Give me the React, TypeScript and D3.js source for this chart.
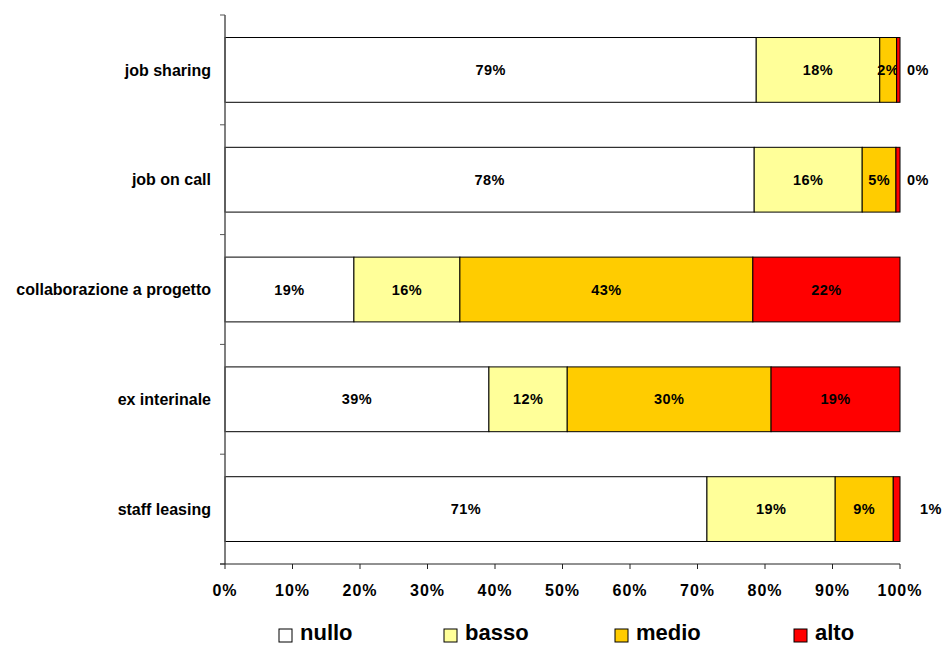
import React from "react";
import * as d3 from "d3";

const categories = ["job sharing", "job on call", "collaborazione a progetto", "ex interinale", "staff leasing"];
const seriesNames = ["nullo", "basso", "medio", "alto"];
const nullo = [78.7, 78.4, 19.1, 39.1, 71.4];
const basso = [18.3, 16.0, 15.7, 11.6, 19.0];
const medio = [2.5, 5.0, 43.4, 30.2, 8.6];
const alto = [0.5, 0.6, 21.8, 19.1, 1.0];
const labelNullo = ["79%", "78%", "19%", "39%", "71%"];
const labelBasso = ["18%", "16%", "16%", "12%", "19%"];
const labelMedio = ["2%", "5%", "43%", "30%", "9%"];
const labelAlto = ["0%", "0%", "22%", "19%", "1%"];
const xTicks = [0, 10, 20, 30, 40, 50, 60, 70, 80, 90, 100];

const colors = ["#FFFFFF", "#FFFF99", "#FFCC00", "#FF0000"];
const outsideDx = [18, 18, 18, 18, 31];

export default function App() {
  const W = 943, H = 646;
  const left = 225, right = 900, top = 15, bottom = 564;
  const x = d3.scaleLinear().domain([0, 100]).range([left, right]);
  const y = d3.scaleBand<string>().domain(categories).range([top, bottom]).paddingInner(0.41).paddingOuter(0.205);
  const step = y.step();
  const values = [nullo, basso, medio, alto];
  const labels = [labelNullo, labelBasso, labelMedio, labelAlto];
  const rows = categories.map((c, i) => {
    const o: any = { cat: c };
    seriesNames.forEach((s, k) => (o[s] = values[k][i]));
    return o;
  });
  const stack = d3.stack<any>().keys(seriesNames)(rows);
  const font = "'Liberation Sans', Arial, sans-serif";
  const legendX = [279, 444, 615, 794];

  return (
    <svg width={W} height={H} style={{ position: "absolute", left: 0, top: 0 }} fontFamily={font}>
      <rect width={W} height={H} fill="#fff" />
      {stack.map((layer, k) =>
        layer.map((d, i) => {
          const x0 = x(d[0]), x1 = x(d[1]);
          const yy = y(categories[i])!;
          const bw = y.bandwidth();
          const small = x1 - x0 < 10;
          const lx = small && k === 3 ? right + outsideDx[i] : (x0 + x1) / 2;
          return (
            <g key={k + "-" + i}>
              <rect x={x0} y={yy} width={x1 - x0} height={bw} fill={colors[k]} stroke="#000" strokeWidth={1} />
              <text x={lx} y={yy + bw / 2} dy="0.35em" textAnchor="middle" fontSize={14.5} fontWeight="bold" letterSpacing={0.4} fill="#000">
                {labels[k][i]}
              </text>
            </g>
          );
        })
      )}
      {/* y axis */}
      <line x1={left} x2={left} y1={top} y2={bottom} stroke="#555" strokeWidth={1.5} />
      {d3.range(categories.length + 1).map((j) => (
        <line key={"yt" + j} x1={left - 5} x2={left} y1={top + j * step} y2={top + j * step} stroke="#555" strokeWidth={1} />
      ))}
      {categories.map((c) => (
        <text key={c} x={left - 14} y={y(c)! + y.bandwidth() / 2} dy="0.35em" textAnchor="end" fontSize={16} fontWeight="bold">
          {c}
        </text>
      ))}
      {/* x axis */}
      <line x1={left - 5} x2={right} y1={bottom} y2={bottom} stroke="#222" strokeWidth={1} />
      {xTicks.map((t) => (
        <g key={"xt" + t}>
          <line x1={x(t)} x2={x(t)} y1={bottom} y2={bottom + 5} stroke="#222" strokeWidth={1} />
          <text x={x(t)} y={bottom + 26} dy="0.35em" textAnchor="middle" fontSize={16} fontWeight="bold" letterSpacing={1}>
            {t + "%"}
          </text>
        </g>
      ))}
      {/* legend */}
      {seriesNames.map((s, k) => (
        <g key={"lg" + s}>
          <rect x={legendX[k]} y={629} width={13} height={13} fill={colors[k]} stroke="#000" strokeWidth={1} />
          <text x={legendX[k] + 21} y={640} fontSize={22} fontWeight="bold">
            {s}
          </text>
        </g>
      ))}
    </svg>
  );
}
